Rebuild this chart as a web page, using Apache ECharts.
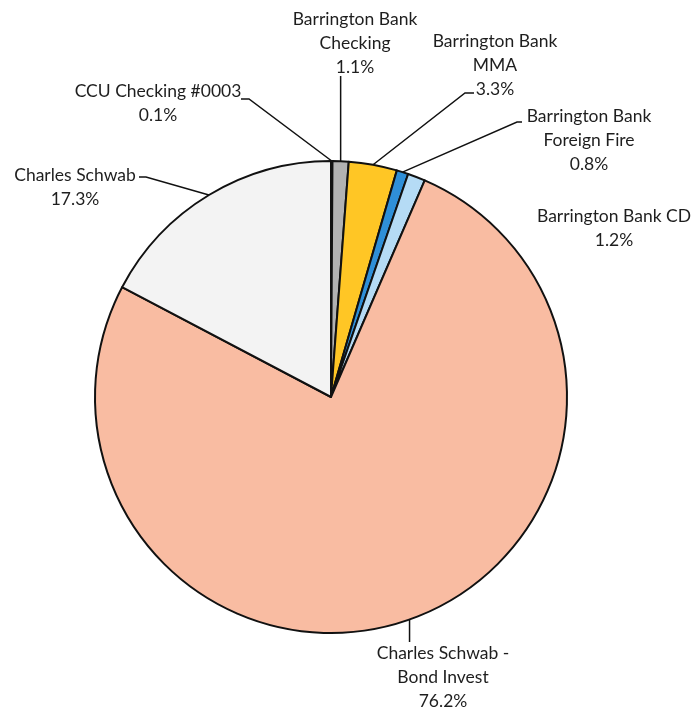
<!DOCTYPE html>
<html>
<head>
<meta charset="utf-8">
<script src="https://cdn.jsdelivr.net/npm/echarts@6/dist/echarts.min.js"></script>
<style>
html,body{margin:0;padding:0;background:#fff;}
#chart{width:694px;height:710px;}
</style>
</head>
<body>
<div id="chart"></div>
<script>
const categories = ['CCU Checking #0003', 'Barrington Bank\nChecking', 'Barrington Bank\nMMA', 'Barrington Bank\nForeign Fire', 'Barrington Bank CD', 'Charles Schwab -\nBond Invest', 'Charles Schwab'];
const values = [0.1, 1.1, 3.3, 0.8, 1.2, 76.2, 17.3];
const colors = ['#4a4a4a', '#b2b2b2', '#ffc625', '#2f8fd8', '#b5dbf5', '#f9bca2', '#f3f3f3'];

// label placement (centre of text block) and leader-line bends
const labelPos = [[158,103],[355,43],[495,65],[589,140],[614,228],[443,677],[75,187]];
const lineBends = [
  [[249,99],[241,99]],
  null,
  [[465,93],[474,93]],
  [[517,122],[522,122]],
  'none',
  null,
  [[146,177],[139,177]]
];

const chart = echarts.init(document.getElementById('chart'), null, {renderer: 'canvas'});
chart.setOption({
  animation: false,
  backgroundColor: '#ffffff',
  series: [{
    type: 'pie',
    center: [331, 397],
    radius: 236,
    startAngle: 90,
    clockwise: true,
    avoidLabelOverlap: false,
    data: categories.map((c, i) => ({
      name: c,
      value: values[i],
      itemStyle: {color: colors[i]},
      labelLine: {show: lineBends[i] !== 'none'}
    })),
    itemStyle: {borderColor: '#111', borderWidth: 2},
    label: {
      show: true,
      position: 'outside',
      formatter: p => p.name + '\n' + values[p.dataIndex].toFixed(1) + '%',
      fontFamily: 'Lato, "Open Sans", sans-serif',
      fontSize: 17.5,
      lineHeight: 24,
      color: '#1e1e1e',
      align: 'center'
    },
    labelLine: {show: true, length: 10, length2: 10, lineStyle: {color: '#111', width: 1.5}},
    labelLayout: function (params) {
      const i = params.dataIndex;
      const pos = labelPos[i];
      const out = {x: pos[0], y: pos[1], align: 'center', verticalAlign: 'middle'};
      const pts = params.labelLinePoints;
      if (pts && lineBends[i] !== 'none') {
        const p0 = pts[0];
        let b = lineBends[i];
        if (b === null) {
          const yEnd = i === 1 ? 76 : 642;
          b = [[p0[0], yEnd], [p0[0], yEnd]];
        }
        out.labelLinePoints = [[p0[0], p0[1]], b[0], b[1]];
      }
      return out;
    }
  }]
});
</script>
</body>
</html>
